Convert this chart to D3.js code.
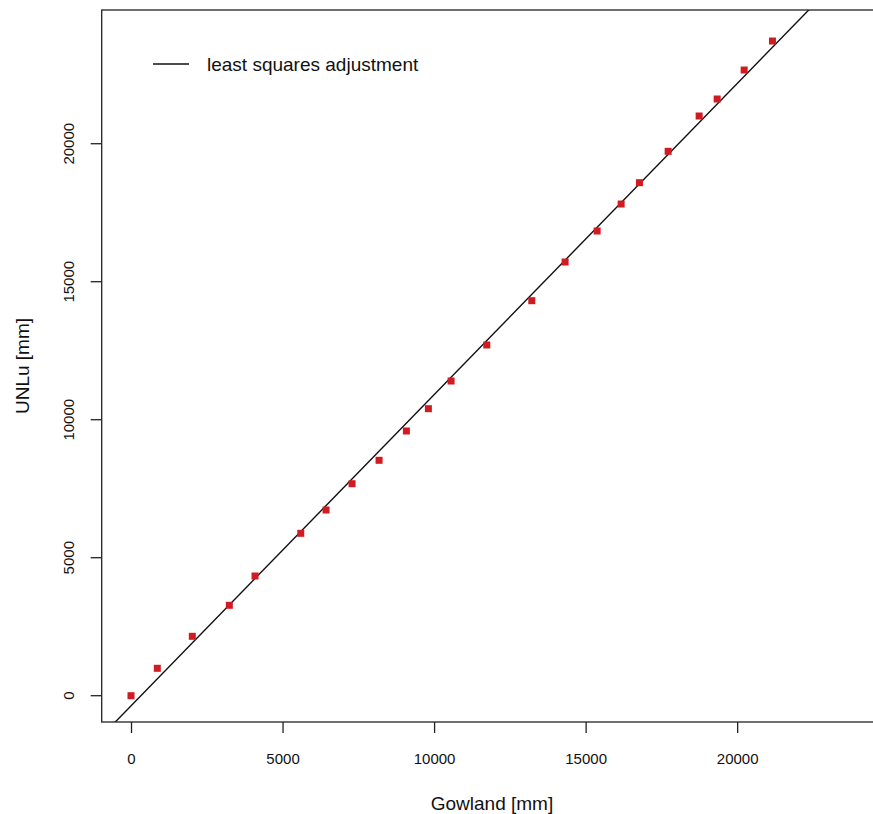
<!DOCTYPE html>
<html lang="en">
<head>
<meta charset="UTF-8">
<title>Gowland vs UNLu</title>
<script src="https://d3js.org/d3.v7.min.js"></script>
<style>
    body, html { margin: 0; padding: 0; background: #fff; overflow: hidden; }
    svg { display: block; font-family: "Liberation Sans", Arial, sans-serif; }
</style>
</head>
<body>
<svg width="873" height="814"></svg>
<script>
const gowland = [0, 868, 2023, 3244, 4092, 5601, 6436, 7294, 8185, 9086, 9812,
                 10561, 11739, 13224, 14323, 15380, 16172, 16776, 17723, 18746,
                 19340, 20231, 21165];
const unlu = [0, 993, 2152, 3275, 4337, 5884, 6728, 7681, 8529, 9591, 10399,
              11402, 12707, 14312, 15714, 16837, 17815, 18587, 19725, 21004,
              21620, 22670, 23721];
const xTicks = [0, 5000, 10000, 15000, 20000];
const yTicks = [0, 5000, 10000, 15000, 20000];
const legendLabel = "least squares adjustment";

const svg = d3.select("svg");
const mLeft = 101.7, mRight = 893, mTop = 10, mBottom = 722;

const x = d3.scaleLinear().domain([-967, 25142]).range([mLeft, mRight]);
const y = d3.scaleLinear().domain([-953, 24845]).range([mBottom, mTop]);

// least squares fit y = a + b x
const mx = d3.mean(gowland), my = d3.mean(unlu);
let sxy = 0, sxx = 0;
gowland.forEach((g, i) => { sxy += (g - mx) * (unlu[i] - my); sxx += (g - mx) * (g - mx); });
const b = sxy / sxx, a = my - b * mx;

svg.append("defs").append("clipPath").attr("id", "clip")
   .append("rect").attr("x", mLeft).attr("y", mTop)
   .attr("width", mRight - mLeft).attr("height", mBottom - mTop);

// fit line
const xd = x.domain();
svg.append("line")
   .attr("clip-path", "url(#clip)")
   .attr("x1", x(xd[0])).attr("y1", y(a + b * xd[0]))
   .attr("x2", x(xd[1])).attr("y2", y(a + b * xd[1]))
   .attr("stroke", "#111").attr("stroke-width", 1.4);

// points
const s = 7;
svg.selectAll("rect.pt")
   .data(gowland.map((g, i) => [g, unlu[i]]))
   .enter().append("rect")
   .attr("class", "pt")
   .attr("x", d => x(d[0]) - s / 2)
   .attr("y", d => y(d[1]) - s / 2)
   .attr("width", s).attr("height", s)
   .attr("fill", "#d11b22");

// box
svg.append("rect")
   .attr("x", mLeft).attr("y", mTop)
   .attr("width", mRight - mLeft).attr("height", mBottom - mTop)
   .attr("fill", "none").attr("stroke", "#222").attr("stroke-width", 1.3);

// x axis
const xAxis = svg.append("g").attr("transform", `translate(0,${mBottom})`)
   .call(d3.axisBottom(x).tickValues(xTicks).tickSize(11).tickPadding(20).tickFormat(d3.format("d")));
xAxis.select(".domain").remove();
xAxis.selectAll("line").attr("stroke", "#222").attr("stroke-width", 1.3);
xAxis.selectAll("text").attr("font-size", 15).attr("fill", "#111")
   .attr("font-family", "Liberation Sans, Arial, sans-serif");

// y axis
const yAxis = svg.append("g").attr("transform", `translate(${mLeft},0)`)
   .call(d3.axisLeft(y).tickValues(yTicks).tickSize(11).tickFormat(d3.format("d")));
yAxis.select(".domain").remove();
yAxis.selectAll("line").attr("stroke", "#222").attr("stroke-width", 1.3);
yAxis.selectAll(".tick").attr("transform", null);
yAxis.selectAll(".tick line").attr("y1", d => y(d)).attr("y2", d => y(d)).attr("x2", -11);
yAxis.selectAll("text")
   .attr("font-size", 15).attr("fill", "#111")
   .attr("font-family", "Liberation Sans, Arial, sans-serif")
   .attr("x", null).attr("dy", null)
   .attr("text-anchor", "middle")
   .attr("transform", d => `translate(${74 - mLeft},${y(d)}) rotate(-90)`);

// axis titles
svg.append("text")
   .attr("x", 492).attr("y", 810)
   .attr("text-anchor", "middle").attr("font-size", 19).attr("fill", "#111")
   .text("Gowland [mm]");
svg.append("text")
   .attr("transform", `translate(29,${(mTop + mBottom) / 2}) rotate(-90)`)
   .attr("text-anchor", "middle").attr("font-size", 19).attr("fill", "#111")
   .text("UNLu [mm]");

// legend
svg.append("line")
   .attr("x1", 153).attr("x2", 189).attr("y1", 64).attr("y2", 64)
   .attr("stroke", "#111").attr("stroke-width", 1.4);
svg.append("text")
   .attr("x", 207).attr("y", 71)
   .attr("font-size", 19).attr("fill", "#111")
   .text(legendLabel);
</script>
</body>
</html>
